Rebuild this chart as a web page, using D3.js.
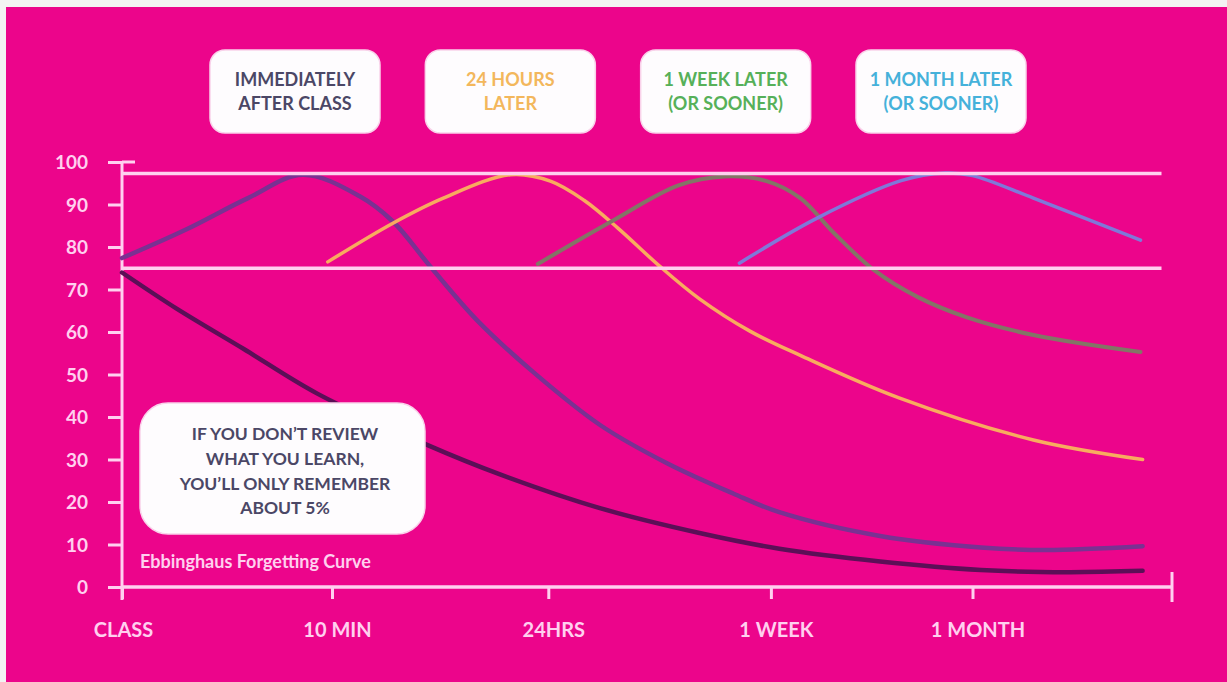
<!DOCTYPE html>
<html>
<head>
<meta charset="utf-8">
<script src="https://cdn.jsdelivr.net/npm/d3@7/dist/d3.min.js"></script>
<style>
  html, body { margin: 0; padding: 0; background: #f3f3f3; }
  svg { display: block; font-family: "Lato", "Open Sans", sans-serif; }
</style>
</head>
<body>
<svg id="chart" width="1227" height="682"></svg>
<script>
// x is a time index: 0 = class, 1 = 10 min, ~2 = 24 hrs, ~3 = 1 week, ~4 = 1 month
const xTickValues = [0, 1, 2.03, 3.09, 4.05];
const xTickLabels = ['CLASS', '10 MIN', '24HRS', '1 WEEK', '1 MONTH'];
const yTickValues = [0, 10, 20, 30, 40, 50, 60, 70, 80, 90, 100];
const refLevels = [97.3, 75];

// retention (%), [time index, value]
const noReview = [[0, 74], [0.26, 65.5], [0.58, 56], [0.93, 45.5], [1.45, 33.5], [1.8, 26.5], [2.28, 18.5],
  [2.75, 12.7], [3.13, 9], [3.61, 6], [4.09, 4], [4.5, 3.5], [4.86, 3.8]];
const reviewImmediately = [[0, 77.4], [0.3, 84], [0.6, 91.5], [0.86, 97], [1.13, 92], [1.29, 86],
  [1.47, 75.3], [1.69, 62.8], [1.96, 50.5], [2.28, 38], [2.6, 29], [2.91, 22], [3.13, 17.6],
  [3.61, 12], [4.09, 9.3], [4.4, 8.7], [4.86, 9.6]];
const review24h = [[0.98, 76.5], [1.29, 85.6], [1.53, 91.5], [1.85, 97], [2.04, 95.5], [2.2, 91],
  [2.36, 84.5], [2.56, 75.5], [2.75, 67.8], [2.99, 60.2], [3.23, 54.5], [3.7, 44.5], [4.34, 34.6], [4.86, 30]];
const reviewWeek = [[1.98, 76], [2.33, 86], [2.65, 94.5], [2.87, 96.6], [3.07, 95.5], [3.23, 91.5],
  [3.39, 83.3], [3.58, 74.6], [3.79, 68.2], [4.02, 63.5], [4.34, 59.3], [4.85, 55.3]];
const reviewMonth = [[2.94, 76.2], [3.31, 86.8], [3.71, 95.6], [3.92, 97.4], [4.05, 96.8], [4.34, 91.5], [4.85, 81.6]];

const series = [
  { data: noReview, color: '#5c0f57', width: 4.5 },
  { data: reviewImmediately, color: '#7a3192', width: 4.5 },
  { data: review24h, color: '#f8ab5f', width: 3.5 },
  { data: reviewWeek, color: '#837566', width: 4 },
  { data: reviewMonth, color: '#8078d8', width: 3.5 }
];

const headerLabels = [
  { lines: ['IMMEDIATELY', 'AFTER CLASS'], color: '#4b4766' },
  { lines: ['24 HOURS', 'LATER'], color: '#f3b75c' },
  { lines: ['1 WEEK LATER', '(OR SOONER)'], color: '#56b059' },
  { lines: ['1 MONTH LATER', '(OR SOONER)'], color: '#45b1da' }
];
const noteLines = ['IF YOU DON\u2019T REVIEW', 'WHAT YOU LEARN,', 'YOU\u2019LL ONLY REMEMBER', 'ABOUT 5%'];
const captionText = 'Ebbinghaus Forgetting Curve';

const axisColor = '#ffd0ef';
const fontFamily = '"Lato", "Open Sans", sans-serif';
const svg = d3.select('#chart');

// pink panel
svg.append('rect').attr('x', 6).attr('y', 7).attr('width', 1221).attr('height', 675).attr('fill', '#ec058b');

const x = d3.scaleLinear().domain([0, 5]).range([122, 1172]);
const y = d3.scaleLinear().domain([0, 100]).range([587, 162]);

// y axis
const yAxis = svg.append('g')
  .attr('transform', `translate(${x(0)},0)`)
  .call(d3.axisLeft(y).tickValues(yTickValues).tickSize(14).tickPadding(20))
  .attr('font-family', fontFamily);
yAxis.select('.domain').remove();
yAxis.selectAll('line').attr('stroke', axisColor).attr('stroke-width', 3);
yAxis.selectAll('text').attr('fill', axisColor).attr('font-size', 19).attr('font-weight', 700).attr('dy', '0.36em');
svg.append('line').attr('x1', x(0)).attr('x2', x(0)).attr('y1', y(100)).attr('y2', y(0) + 13)
  .attr('stroke', axisColor).attr('stroke-width', 3);
svg.append('line').attr('x1', x(0)).attr('x2', x(0) + 13).attr('y1', y(100)).attr('y2', y(100))
  .attr('stroke', axisColor).attr('stroke-width', 3);

// x axis
const xAxis = svg.append('g')
  .attr('transform', `translate(0,${y(0)})`)
  .call(d3.axisBottom(x).tickValues(xTickValues).tickFormat((d, i) => xTickLabels[i]).tickSize(12).tickPadding(24))
  .attr('font-family', fontFamily);
xAxis.select('.domain').remove();
xAxis.selectAll('line').attr('stroke', axisColor).attr('stroke-width', 3);
xAxis.selectAll('text').attr('fill', axisColor).attr('font-size', 20).attr('font-weight', 700)
  .attr('dx', (d, i) => i === 0 ? 1 : 5);
svg.append('line').attr('x1', x(0)).attr('x2', x(5)).attr('y1', y(0)).attr('y2', y(0))
  .attr('stroke', axisColor).attr('stroke-width', 3.5);
svg.append('line').attr('x1', x(5)).attr('x2', x(5)).attr('y1', y(0) - 15).attr('y2', y(0) + 15)
  .attr('stroke', axisColor).attr('stroke-width', 3);

// curves
const line = d3.line().x(d => x(d[0])).y(d => y(d[1])).curve(d3.curveCatmullRom.alpha(0.5));
svg.append('g').selectAll('path')
  .data(series)
  .join('path')
  .attr('d', d => line(d.data))
  .attr('fill', 'none')
  .attr('stroke', d => d.color)
  .attr('stroke-width', d => d.width)
  .attr('stroke-linecap', 'round');

// reference lines
svg.append('g').selectAll('line')
  .data(refLevels)
  .join('line')
  .attr('x1', x(0)).attr('x2', x(4.95))
  .attr('y1', d => y(d)).attr('y2', d => y(d))
  .attr('stroke', axisColor).attr('stroke-width', 3.5);

// header boxes
const boxX = d3.scalePoint().domain(d3.range(headerLabels.length)).range([295, 941]);
const hb = svg.append('g').selectAll('g')
  .data(headerLabels)
  .join('g')
  .attr('transform', (d, i) => `translate(${boxX(i)},0)`);
hb.append('rect')
  .attr('x', -85).attr('y', 50).attr('width', 170).attr('height', 83).attr('rx', 15)
  .attr('fill', '#fefcfe').attr('stroke', '#f9d2ea').attr('stroke-width', 1.5);
hb.selectAll('text')
  .data(d => d.lines.map(t => ({ t, color: d.color })))
  .join('text')
  .attr('x', 0).attr('y', (d, i) => 80 + i * 24)
  .attr('dy', '0.35em')
  .attr('text-anchor', 'middle')
  .attr('font-size', 18).attr('font-weight', 700)
  .attr('fill', d => d.color)
  .text(d => d.t);

// note box
svg.append('rect')
  .attr('x', 140).attr('y', 403).attr('width', 285).attr('height', 131).attr('rx', 28)
  .attr('fill', '#fefcfe').attr('stroke', '#f9d2ea').attr('stroke-width', 1.5);
svg.append('g').selectAll('text')
  .data(noteLines)
  .join('text')
  .attr('x', 285).attr('y', (d, i) => 434 + i * 24.7)
  .attr('dy', '0.35em')
  .attr('text-anchor', 'middle')
  .attr('font-size', 17.5).attr('font-weight', 700)
  .attr('fill', '#4b4766')
  .text(d => d);

svg.append('text')
  .attr('x', 140).attr('y', 562).attr('dy', '0.35em')
  .attr('font-size', 18).attr('font-weight', 700)
  .attr('fill', axisColor)
  .text(captionText);
</script>
</body>
</html>
